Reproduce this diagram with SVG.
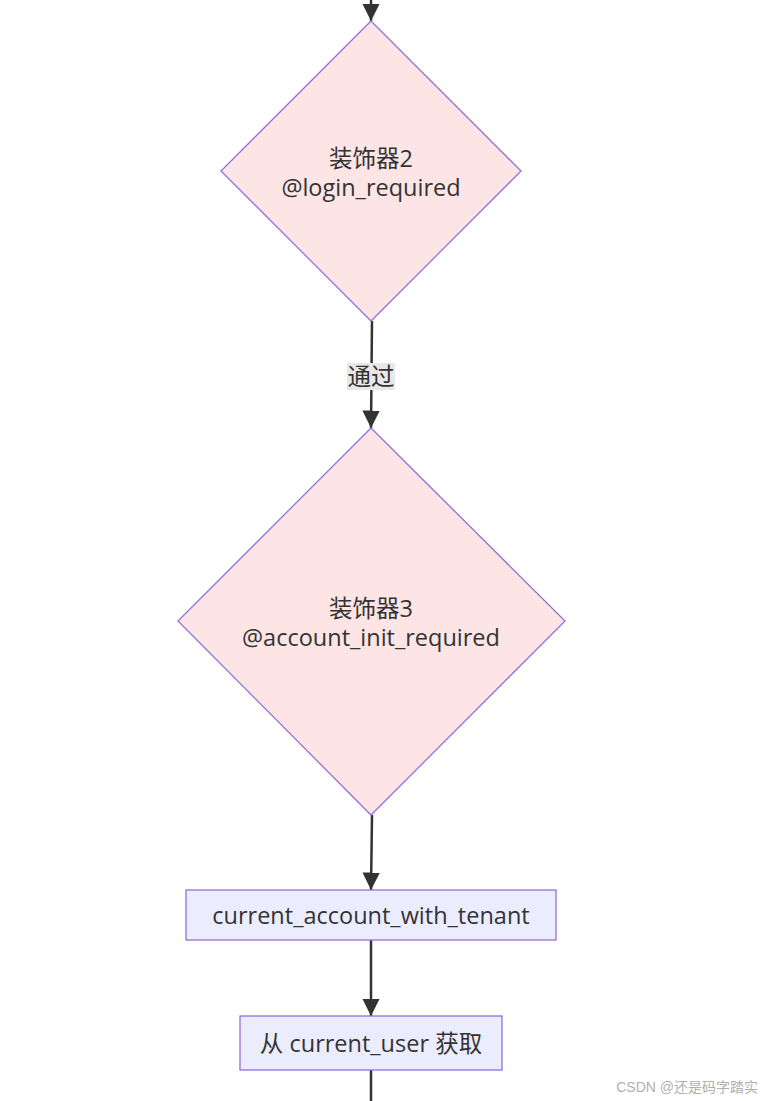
<svg xmlns="http://www.w3.org/2000/svg" width="765" height="1101" viewBox="0 0 765 1101">
<style>
.dia{fill:#fce5e4;stroke:#9370db;stroke-width:1.3}
.box{fill:#ececff;stroke:#9370db;stroke-width:1.3}
.t{font-family:"Open Sans","Noto Sans CJK SC",sans-serif;font-size:23.5px;fill:#333;text-anchor:middle}
.e{stroke:#333;stroke-width:2.5;fill:none}
.lbl{fill:#e8e8e8}
</style>
<defs>
<marker id="ah" viewBox="0 0 10 10" refX="10" refY="5" markerWidth="7" markerHeight="7" markerUnits="strokeWidth" orient="auto">
<path d="M0,0 L10,5 L0,10 z" fill="#333"/>
</marker>
</defs>
<rect width="765" height="1101" fill="#fff"/>
<g id="edges">
<path class="e" d="M371,0 L371,21" marker-end="url(#ah)"/>
<path class="e" d="M372,321 L371,428" marker-end="url(#ah)"/>
<path class="e" d="M372,815 L371,890" marker-end="url(#ah)"/>
<path class="e" d="M371,940 L371,1016" marker-end="url(#ah)"/>
<path class="e" d="M371,1070 L371,1101"/>
<g id="edge-label">
<rect class="lbl" x="347" y="363" width="48" height="27"/>
<text class="t" x="371" y="385">通过</text>
</g>
</g>
<g id="d2">
<polygon class="dia" points="371,21 521,171 371,321 221,171"/>
<text class="t" x="371" y="167">装饰器2</text>
<text class="t" x="371" y="196">@login_required</text>
</g>
<g id="d3">
<polygon class="dia" points="371,428 565,621 371,815 178,621"/>
<text class="t" x="371" y="617">装饰器3</text>
<text class="t" x="371" y="646">@account_init_required</text>
</g>
<g id="n1">
<rect class="box" x="186" y="890" width="370" height="50"/>
<text class="t" x="371" y="924">current_account_with_tenant</text>
</g>
<g id="n2">
<rect class="box" x="240" y="1016" width="262" height="54"/>
<text class="t" x="371" y="1052">从 current_user 获取</text>
</g>
<text x="758" y="1092" font-family="'Liberation Sans','Noto Sans CJK SC',sans-serif" font-size="14" fill="#b0b0b0" text-anchor="end">CSDN @还是码字踏实</text>
</svg>
